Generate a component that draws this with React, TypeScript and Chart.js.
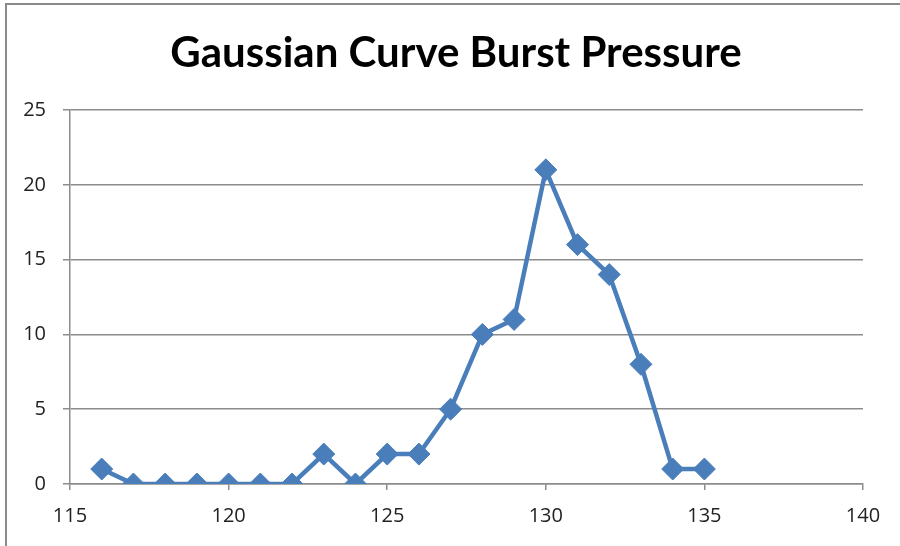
import React, { useEffect, useRef } from "react";
import { Chart, registerables } from "chart.js";

Chart.register(...registerables);

const pressures = [116, 117, 118, 119, 120, 121, 122, 123, 124, 125, 126, 127, 128, 129, 130, 131, 132, 133, 134, 135];
const counts = [1, 0, 0, 0, 0, 0, 0, 2, 0, 2, 2, 5, 10, 11, 21, 16, 14, 8, 1, 1];
const xTicks = [115, 120, 125, 130, 135, 140];
const yTicks = [0, 5, 10, 15, 20, 25];
const titleText = "Gaussian Curve Burst Pressure";

const titlePlugin = {
  id: "offsetTitle",
  afterDraw(chart: any) {
    const ctx = chart.ctx;
    ctx.save();
    ctx.font = "bold 42px Lato, 'Open Sans', sans-serif";
    ctx.fillStyle = "#000000";
    ctx.textAlign = "center";
    ctx.textBaseline = "alphabetic";
    ctx.fillText(titleText, 456, 67);
    ctx.restore();
  },
};

export default function App() {
  const ref = useRef<HTMLCanvasElement | null>(null);

  useEffect(() => {
    document.body.style.margin = "0";
    document.body.style.overflow = "hidden";
    document.documentElement.style.overflow = "hidden";
    const canvas = ref.current;
    if (!canvas) return;
    const blue = "#4A7EBB";
    const grid = "#8C8C8C";
    const chart = new Chart(canvas, {
      type: "scatter",
      data: {
        datasets: [
          {
            data: pressures.map((x, i) => ({ x, y: counts[i] })),
            showLine: true,
            borderColor: blue,
            backgroundColor: blue,
            borderWidth: 4.5,
            pointStyle: "rectRot",
            pointRadius: 11,
            pointBorderWidth: 1,
            pointBorderColor: blue,
            pointBackgroundColor: blue,
            tension: 0,
          },
        ],
      },
      plugins: [titlePlugin],
      options: {
        animation: false,
        responsive: false,
        maintainAspectRatio: false,
        layout: { padding: { left: 0, right: 37, top: 110, bottom: 0 } },
        plugins: {
          legend: { display: false },
          tooltip: { enabled: false },
          title: { display: false },
        },
        scales: {
          x: {
            type: "linear",
            min: 115,
            max: 140,
            afterBuildTicks: (axis: any) => {
              axis.ticks = xTicks.map((v) => ({ value: v }));
            },
            afterFit: (axis: any) => {
              axis.height = 62;
            },
            grid: {
              display: true,
              drawOnChartArea: false,
              drawTicks: true,
              tickLength: 6,
              color: grid,
              lineWidth: 1.5,
            },
            border: { display: true, color: grid, width: 1.5 },
            ticks: {
              color: "#222222",
              font: { family: "'Open Sans', sans-serif", size: 20 },
              padding: 14,
              maxRotation: 0,
            },
          },
          y: {
            type: "linear",
            min: 0,
            max: 25,
            afterBuildTicks: (axis: any) => {
              axis.ticks = yTicks.map((v) => ({ value: v }));
            },
            afterFit: (axis: any) => {
              axis.width = 70;
            },
            grid: {
              display: true,
              drawOnChartArea: true,
              drawTicks: true,
              tickLength: 7,
              color: grid,
              lineWidth: 1.5,
            },
            border: { display: true, color: grid, width: 1.5 },
            ticks: {
              color: "#222222",
              font: { family: "'Open Sans', sans-serif", size: 20 },
              padding: 17,
            },
          },
        },
      },
    });
    return () => chart.destroy();
  }, []);

  return (
    <div style={{ position: "relative", width: 900, height: 546, overflow: "hidden", background: "#ffffff" }}>
      <div
        style={{
          position: "absolute",
          left: 5,
          top: 3,
          width: 895,
          height: 543,
          borderTop: "2px solid #8A8A8A",
          borderLeft: "2px solid #8A8A8A",
          boxSizing: "border-box",
        }}
      />
      <canvas ref={ref} width={900} height={546} style={{ position: "absolute", left: 0, top: 0, width: 900, height: 546 }} />
      <div style={{ position: "absolute", left: 880, top: 6, width: 20, height: 540, background: "#ffffff" }} />
    </div>
  );
}
